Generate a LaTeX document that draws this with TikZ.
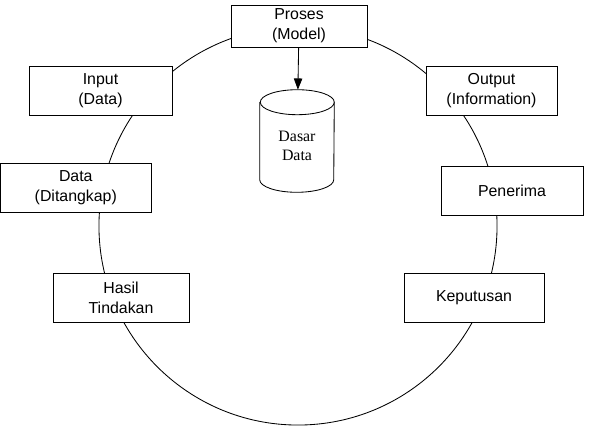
\documentclass[tikz,border=0pt]{standalone}
\usepackage{fontspec}
\setmainfont{Liberation Sans}
\newfontfamily\serifface{Liberation Serif}
\usetikzlibrary{arrows.meta}

\begin{document}
\begin{tikzpicture}[x=0.025cm, y=-0.025cm,
    box/.style={draw, fill=white, line width=0.6pt, align=center,
        inner sep=0pt, minimum height=1.225cm,
        font=\fontsize{11.3}{14}\selectfont},
    store/.style={align=center, minimum width=1.85cm, minimum height=2.55cm,
        inner sep=0pt, font=\serifface\fontsize{11.3}{13.5}\selectfont}]
    \useasboundingbox (0,0) rectangle (592,432);

    % the cycle
    \draw[line width=0.6pt] (298,226) circle (4.975cm);

    \node[box, minimum width=3.4cm, minimum height=1.05cm] (proses) at (299,26) {Proses\\(Model)};
    \node[box, minimum width=3.575cm] (input) at (100.5,90.5) {Input\\(Data)};
    \node[box, minimum width=3.775cm] (data) at (75.8,187.5) {Data\\(Ditangkap)};
    \node[box, minimum width=3.4cm] (hasil) at (121,297.5) {Hasil\\Tindakan};
    \node[box, minimum width=3.275cm] (output) at (491.5,90.5) {Output\\(Information)};
    \node[box, minimum width=3.55cm] (penerima) at (512,190.5) {Penerima};
    \node[box, minimum width=3.5cm] (keputusan) at (474,297.5) {Keputusan};

    % database drum
    \node[store] (dasar) at (297,141) {};
    \draw[line width=0.6pt, fill=white]
        ([yshift=-0.3125cm]dasar.north west) -- ([yshift=0.3125cm]dasar.south west)
        arc (180:360:0.925cm and 0.3125cm) -- ([yshift=-0.3125cm]dasar.north east)
        arc (0:180:0.925cm and 0.3125cm);
    \draw[line width=0.6pt] ([yshift=-0.3125cm]dasar.north east)
        arc (0:-180:0.925cm and 0.3125cm);
    \node[store] at ([yshift=-0.12cm]dasar.center) {Dasar\\Data};

    \draw[-{Triangle[length=8pt,width=6pt]}, line width=0.6pt] (proses) -- (dasar);
\end{tikzpicture}
\end{document}
